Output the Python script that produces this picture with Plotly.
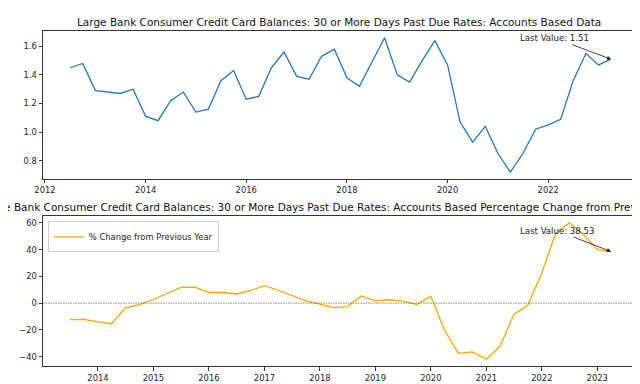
import pandas as pd
import plotly.graph_objects as go

# ---- data ----
rate_start = "2012-07-01"
rate_values = [1.45, 1.48, 1.29, 1.28, 1.27, 1.30, 1.11, 1.08, 1.22, 1.28,
               1.14, 1.16, 1.36, 1.43, 1.23, 1.25, 1.45, 1.56, 1.39, 1.37,
               1.53, 1.58, 1.38, 1.32, 1.49, 1.66, 1.40, 1.35, 1.50, 1.64,
               1.47, 1.07, 0.93, 1.04, 0.85, 0.72, 0.85, 1.02, 1.05, 1.09,
               1.36, 1.55, 1.47, 1.51]

pct_start = "2013-07-01"
pct_values = [-12.4, -12.2, -14.0, -15.4, -3.6, -1.2, 2.7, 7.4, 11.8, 12.0,
              8.0, 7.9, 6.8, 9.3, 13.1, 9.6, 5.5, 1.6, -0.7, -3.4,
              -2.6, 5.3, 1.6, 2.5, 1.4, -1.0, 5.2, -20.3, -37.6, -36.4,
              -41.9, -32.3, -8.4, -1.5, 22.5, 52.0, 60.0, 51.5, 40.0, 38.53]

top_title = "Large Bank Consumer Credit Card Balances: 30 or More Days Past Due Rates: Accounts Based Data"
bottom_title = ("Large Bank Consumer Credit Card Balances: 30 or More Days Past Due Rates: "
                "Accounts Based Percentage Change from Previous Year")
legend_label = "% Change from Previous Year"

rate_dates = pd.date_range(rate_start, periods=len(rate_values), freq="QS")
pct_dates = pd.date_range(pct_start, periods=len(pct_values), freq="QS")

FONT = "DejaVu Sans"
W, H = 640, 384
ml, mr, mt, mb = 35, 9.3, 22.7, 23.7
pw = W - ml - mr
ph = H - mt - mb

def py(px):
    # pixel y (from top) -> paper y
    return (H - mb - px) / ph

fig = go.Figure()
fig.add_trace(go.Scatter(x=rate_dates, y=rate_values, mode="lines",
                         line=dict(color="#1f77b4", width=1.3),
                         showlegend=False, xaxis="x", yaxis="y"))
fig.add_trace(go.Scatter(x=pct_dates, y=pct_values, mode="lines",
                         line=dict(color="orange", width=1.3),
                         name=legend_label, showlegend=True,
                         xaxis="x2", yaxis="y2"))

def span(start, end):
    s = pd.Timestamp(start); e = pd.Timestamp(end)
    pad = (e - s) * 0.05
    return [s - pad, e + pad]

r_top = span(rate_dates[0], rate_dates[-1])
r_bot = span(pct_dates[0], pct_dates[-1])

lo, hi = min(rate_values), max(rate_values)
pad = (hi - lo) * 0.05
yr_top = [lo - pad, hi + pad]
lo2, hi2 = min(pct_values), max(pct_values)
pad2 = (hi2 - lo2) * 0.05
yr_bot = [lo2 - pad2, hi2 + pad2]

axis_common = dict(showline=True, linecolor="#333", linewidth=1, mirror=True,
                   ticks="outside", ticklen=3.5, tickwidth=0.8, tickcolor="#333",
                   showgrid=False, zeroline=False,
                   tickfont=dict(family=FONT, size=8.4, color="#222"))

fig.update_layout(
    width=W, height=H,
    margin=dict(l=ml, r=mr, t=mt, b=mb),
    paper_bgcolor="white", plot_bgcolor="white",
    font=dict(family=FONT, size=8, color="#222"),
    xaxis=dict(domain=[0, 1], anchor="y", type="date", range=r_top,
               tick0="2012-01-01", dtick="M24", tickformat="%Y", **axis_common),
    yaxis=dict(domain=[py(171.7), 1], anchor="x", range=yr_top,
               tick0=0, dtick=0.2, tickformat=".1f", **axis_common),
    xaxis2=dict(domain=[0, 1], anchor="y2", type="date", range=r_bot,
                tick0="2014-01-01", dtick="M12", tickformat="%Y", **axis_common),
    yaxis2=dict(domain=[0, py(209.1)], anchor="x2", range=yr_bot,
                tick0=0, dtick=20, **axis_common),
    legend=dict(x=0.008, y=py(214.5), xanchor="left", yanchor="top",
                xref="paper", yref="paper",
                bgcolor="rgba(255,255,255,0.8)", bordercolor="#ccc", borderwidth=1,
                font=dict(family=FONT, size=8.4, color="#222"),
                itemwidth=30, tracegroupgap=0),
    showlegend=True,
)

fig.add_shape(type="line", xref="x2 domain", yref="y2", x0=0, x1=1, y0=0, y1=0,
              line=dict(color="#555", width=0.7, dash="1.5px,1px"))

fig.add_annotation(text=top_title, xref="paper", yref="paper", x=0.5 - 2 / pw, y=py(14),
                   xanchor="center", yanchor="middle", showarrow=False,
                   font=dict(family=FONT, size=10.5, color="#111"))
fig.add_annotation(text=bottom_title, xref="paper", yref="paper", x=0.5 - 8 / pw, y=py(200),
                   xanchor="center", yanchor="middle", showarrow=False,
                   font=dict(family=FONT, size=10.5, color="#111"))

fig.add_annotation(text=f"Last Value: {rate_values[-1]:.2f}", x=rate_dates[-1], y=rate_values[-1],
                   xref="x", yref="y", ax=-56, ay=-21, showarrow=True,
                   arrowhead=2, arrowsize=1, arrowwidth=0.8, arrowcolor="#111",
                   font=dict(family=FONT, size=8.6, color="#222"))
fig.add_annotation(text=f"Last Value: {pct_values[-1]:.2f}", x=pct_dates[-1], y=pct_values[-1],
                   xref="x2", yref="y2", ax=-54, ay=-21, showarrow=True,
                   arrowhead=2, arrowsize=1, arrowwidth=0.8, arrowcolor="#111",
                   font=dict(family=FONT, size=8.6, color="#222"))

fig.write_html("out.html")
